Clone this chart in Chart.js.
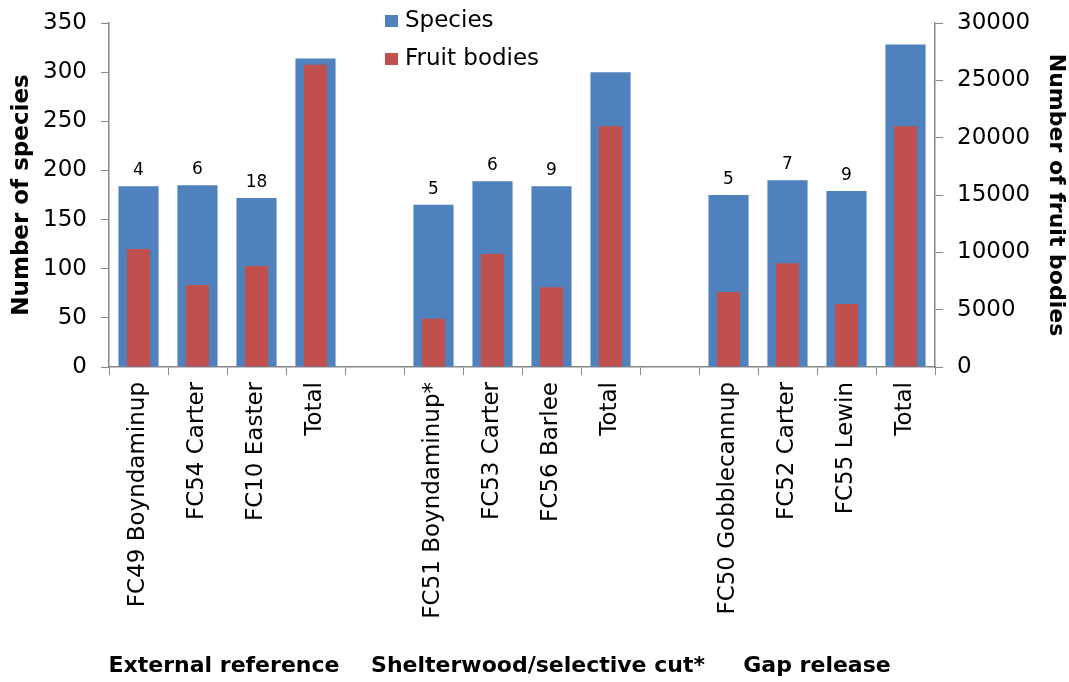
<!DOCTYPE html>
<html>
<head>
<meta charset="utf-8">
<script src="https://cdn.jsdelivr.net/npm/chart.js@4"></script>
<style>
  html, body { margin: 0; padding: 0; background: #fff; }
  #wrap { width: 1069px; height: 682px; }
</style>
</head>
<body>
<div id="wrap"><canvas id="fungiChart" width="1069" height="682"></canvas></div>
<script>
const sites = [
  'FC49 Boyndaminup', 'FC54 Carter', 'FC10 Easter', 'Total', '',
  'FC51 Boyndaminup*', 'FC53 Carter', 'FC56 Barlee', 'Total', '',
  'FC50 Gobblecannup', 'FC52 Carter', 'FC55 Lewin', 'Total'
];
const speciesCounts = [184, 185, 172, 314, null, 165, 189, 184, 300, null, 175, 190, 179, 328];
const fruitBodies = [10300, 7150, 8800, 26350, null, 4200, 9850, 6950, 21000, null, 6550, 9050, 5500, 21000];
const barLabels = ['4', '6', '18', '', '', '5', '6', '9', '', '', '5', '7', '9', ''];
const groupNames = ['External reference', 'Shelterwood/selective cut*', 'Gap release'];
const groupRanges = [[0, 3], [5, 8], [10, 13]];
const speciesTicks = [0, 50, 100, 150, 200, 250, 300, 350];
const fruitTicks = [0, 5000, 10000, 15000, 20000, 25000, 30000];

const FONT = "'DejaVu Sans', 'Liberation Sans', Arial, sans-serif";
const BLUE = '#4F81BD';
const RED = '#C0504D';
const AXIS = '#878787';

// numbers above the blue bars, group names and the legend
const extrasPlugin = {
  id: 'extras',
  afterDatasetsDraw(chart) {
    const ctx = chart.ctx;
    const blueMeta = chart.getDatasetMeta(1);
    ctx.save();
    ctx.fillStyle = '#000';
    ctx.font = '17px ' + FONT;
    ctx.textAlign = 'center';
    ctx.textBaseline = 'bottom';
    blueMeta.data.forEach((bar, i) => {
      if (barLabels[i]) ctx.fillText(barLabels[i], bar.x, bar.y - 7);
    });

    const x = chart.scales.x;
    ctx.font = 'bold 22px ' + FONT;
    ctx.textBaseline = 'middle';
    groupRanges.forEach((r, i) => {
      const cx = (x.getPixelForValue(r[0]) + x.getPixelForValue(r[1])) / 2;
      const shift = i === 1 ? 16 : (i === 0 ? -3 : 0);
      ctx.fillText(groupNames[i], cx + shift, 666);
    });

    // legend
    const items = [['Species', BLUE], ['Fruit bodies', RED]];
    ctx.textAlign = 'left';
    ctx.font = '23px ' + FONT;
    items.forEach((it, i) => {
      const y = 21 + i * 38;
      ctx.fillStyle = it[1];
      ctx.fillRect(385, y - 6, 13, 12);
      ctx.fillStyle = '#000';
      ctx.fillText(it[0], 405, y);
    });
    ctx.restore();
  }
};

function fixWidth(w) {
  return scale => {
    scale.width = w;
    scale.paddingTop = 0;
    scale.paddingBottom = 0;
  };
}

new Chart(document.getElementById('fungiChart').getContext('2d'), {
  type: 'bar',
  data: {
    labels: sites,
    datasets: [
      {
        label: 'Fruit bodies',
        data: fruitBodies,
        backgroundColor: RED,
        yAxisID: 'y1',
        grouped: false,
        order: 0,
        barPercentage: 0.39,
        categoryPercentage: 1
      },
      {
        label: 'Species',
        data: speciesCounts,
        backgroundColor: BLUE,
        yAxisID: 'y',
        grouped: false,
        order: 1,
        barPercentage: 0.68,
        categoryPercentage: 1
      }
    ]
  },
  options: {
    responsive: false,
    animation: false,
    layout: { padding: { top: 23 } },
    plugins: {
      legend: { display: false },
      tooltip: { enabled: false }
    },
    scales: {
      x: {
        grid: {
          offset: true,
          drawOnChartArea: false,
          color: AXIS,
          tickLength: 8
        },
        border: { color: AXIS, width: 1.5 },
        ticks: {
          color: '#000',
          font: { family: FONT, size: 23 },
          minRotation: 90,
          maxRotation: 90,
          autoSkip: false,
          padding: 7
        },
        afterFit(scale) { scale.height = 315; }
      },
      y: {
        position: 'left',
        min: 0,
        max: 350,
        afterBuildTicks(scale) { scale.ticks = speciesTicks.map(v => ({ value: v })); },
        grid: { drawOnChartArea: false, color: AXIS, tickLength: 8 },
        border: { color: AXIS, width: 1.5 },
        ticks: { color: '#000', font: { family: FONT, size: 23 }, padding: 14 },
        title: {
          display: true,
          text: 'Number of species',
          color: '#000',
          font: { family: FONT, size: 23, weight: 'bold' },
          padding: { top: 8, bottom: 0 }
        },
        afterFit: fixWidth(109)
      },
      y1: {
        position: 'right',
        min: 0,
        max: 30000,
        afterBuildTicks(scale) { scale.ticks = fruitTicks.map(v => ({ value: v })); },
        grid: { drawOnChartArea: false, color: AXIS, tickLength: 8 },
        border: { color: AXIS, width: 1.5 },
        ticks: {
          color: '#000',
          font: { family: FONT, size: 23 },
          padding: 14,
          callback: v => String(v)
        },
        title: {
          display: true,
          text: 'Number of fruit bodies',
          color: '#000',
          font: { family: FONT, size: 22, weight: 'bold' },
          padding: 0
        },
        afterFit: fixWidth(134)
      }
    }
  },
  plugins: [extrasPlugin]
});
</script>
</body>
</html>
